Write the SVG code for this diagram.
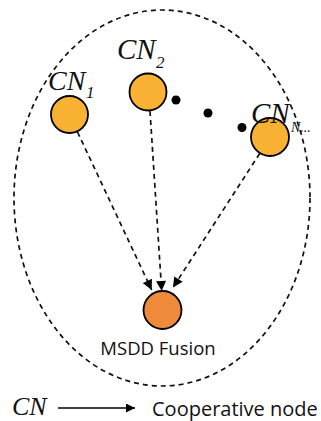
<svg xmlns="http://www.w3.org/2000/svg" width="321" height="421" viewBox="0 0 321 421">
<defs>
<style>
.cn{fill:#F9B233;stroke:#000;stroke-width:1.8}
.fus{fill:#EF8A3A;stroke:#000;stroke-width:1.8}
.dot{fill:#000}
.lbl{font-family:"Liberation Serif","Times New Roman",serif;font-style:italic;fill:#111}
.sans{font-family:"Open Sans","Noto Sans",sans-serif;fill:#111}
.dash{fill:none;stroke:#111;stroke-width:1.7;stroke-dasharray:5 4}
</style>
<marker id="ah" viewBox="0 0 10 10" refX="10" refY="5" markerWidth="11" markerHeight="10" markerUnits="userSpaceOnUse" orient="auto">
<path d="M0,0 L10,5 L0,10 z" fill="#000"/>
</marker>
<marker id="ah2" viewBox="0 0 10 10" refX="10" refY="5" markerWidth="12" markerHeight="9" markerUnits="userSpaceOnUse" orient="auto">
<path d="M0,0 L10,5 L0,10 z" fill="#000"/>
</marker>
</defs>
<rect width="321" height="421" fill="#fff"/>
<ellipse id="boundary" class="dash" cx="162" cy="198" rx="148" ry="188"/>
<g id="connectors">
<line class="dash" x1="77.5" y1="132" x2="151.7" y2="290" marker-end="url(#ah)"/>
<line class="dash" x1="150" y1="111" x2="161.7" y2="291" marker-end="url(#ah)"/>
<line class="dash" x1="259.7" y1="153.5" x2="173" y2="287.5" marker-end="url(#ah)"/>
</g>
<g id="cn1">
<circle class="cn" cx="69.5" cy="114.5" r="18.5"/>
<text class="lbl" x="48" y="90" font-size="28">CN</text>
<text class="lbl" x="86" y="98" font-size="17">1</text>
</g>
<g id="cn2">
<circle class="cn" cx="148" cy="92" r="18.5"/>
<text class="lbl" x="117" y="59" font-size="29">CN</text>
<text class="lbl" x="156" y="68" font-size="17">2</text>
</g>
<g id="dots">
<circle class="dot" cx="176" cy="100" r="4.5"/>
<circle class="dot" cx="208" cy="113" r="4.5"/>
<circle class="dot" cx="242" cy="127.5" r="4.5"/>
</g>
<g id="cnN">
<circle class="cn" cx="270" cy="137" r="19"/>
<text class="lbl" x="251" y="123" font-size="29">CN</text>
<text class="lbl" x="291" y="132" font-size="14">N...</text>
</g>
<g id="fusion">
<circle class="fus" cx="162.5" cy="310" r="19"/>
<text class="sans" x="158" y="355" font-size="18.5" text-anchor="middle">MSDD Fusion</text>
</g>
<g id="legend">
<text class="lbl" x="12" y="415" font-size="26">CN</text>
<line x1="58" y1="408" x2="135" y2="408" stroke="#000" stroke-width="1.7" marker-end="url(#ah2)"/>
<text class="sans" x="152" y="416" font-size="20">Cooperative node</text>
</g>
</svg>
